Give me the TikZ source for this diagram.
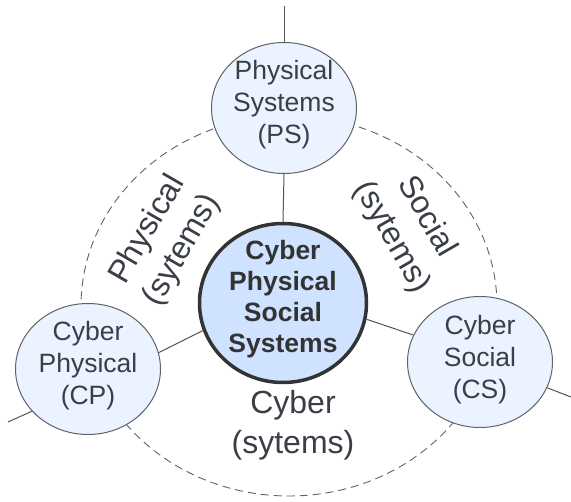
\documentclass[tikz,border=0pt]{standalone}
\usepackage{fontspec}
\setmainfont{Liberation Sans}
\usetikzlibrary{shapes.geometric}
\definecolor{txt}{HTML}{3A3F47}
\definecolor{lightfill}{HTML}{EAF3FF}
\definecolor{centerfill}{HTML}{CFE2FF}
\definecolor{edgegray}{HTML}{5F6368}
\definecolor{spokegray}{HTML}{555555}
\begin{document}
\begin{tikzpicture}[x=1pt,y=-1pt,
  smallc/.style={ellipse, draw=edgegray, line width=1pt, fill=lightfill,
    minimum width=145pt, minimum height=131pt, inner sep=0pt},
  bigc/.style={ellipse, draw=black!80, line width=3.5pt, fill=centerfill,
    minimum width=167pt, minimum height=159pt, inner sep=0pt},
  intext/.style={align=center, text=txt, inner sep=0pt,
    font=\fontsize{26.5}{32}\selectfont},
  lbl/.style={align=center, text=txt, inner sep=0pt,
    font=\fontsize{32}{40}\selectfont},
  spoke/.style={draw=spokegray, line width=1pt},
  ring/.style={draw=edgegray, line width=0.9pt, dash pattern=on 8pt off 5pt}]
\useasboundingbox (0,0) rectangle (571,502);
\fill[white] (0,0) rectangle (571,502);
% dashed ring
\draw[ring] (289,306) ellipse [x radius=208pt, y radius=190pt];
% circles
\node[smallc] (ps) at (284,108) {};
\node[smallc] (cp) at (88,369) {};
\node[smallc] (cs) at (480,362) {};
\node[bigc] (c) at (283,303) {};
% texts
\node[intext] (pst) at (284,105) {Physical\\Systems\\(PS)};
\node[intext] (cpt) at (88,366) {Cyber\\Physical\\(CP)};
\node[intext] (cst) at (480,360) {Cyber\\Social\\(CS)};
\node[intext, font=\fontsize{26.5}{31}\selectfont\bfseries, text=black!80] (ct) at (283,299) {Cyber\\Physical\\Social\\Systems};
% free ends
\coordinate (topend) at (284,6);
\coordinate (leftend) at (8,422);
\coordinate (rightend) at (571,397);
% spokes
\draw[spoke] (topend) -- (ps.north);
\draw[spoke] (ps.south) -- (c.north);
\draw[spoke] (c.199.7) -- (cp.13);
\draw[spoke] (cp.217) -- (leftend);
\draw[spoke] (c.-11) -- (cs.158);
\draw[spoke] (cs.-21) -- (rightend);
% labels
\node[lbl, rotate=60] (lphys) at (165,240) {Physical\\(sytems)};
\node[lbl, rotate=-60] (lsoc) at (409,227) {Social\\(sytems)};
\node[lbl] (lcyb) at (293,425) {Cyber\\(sytems)};
\end{tikzpicture}
\end{document}
